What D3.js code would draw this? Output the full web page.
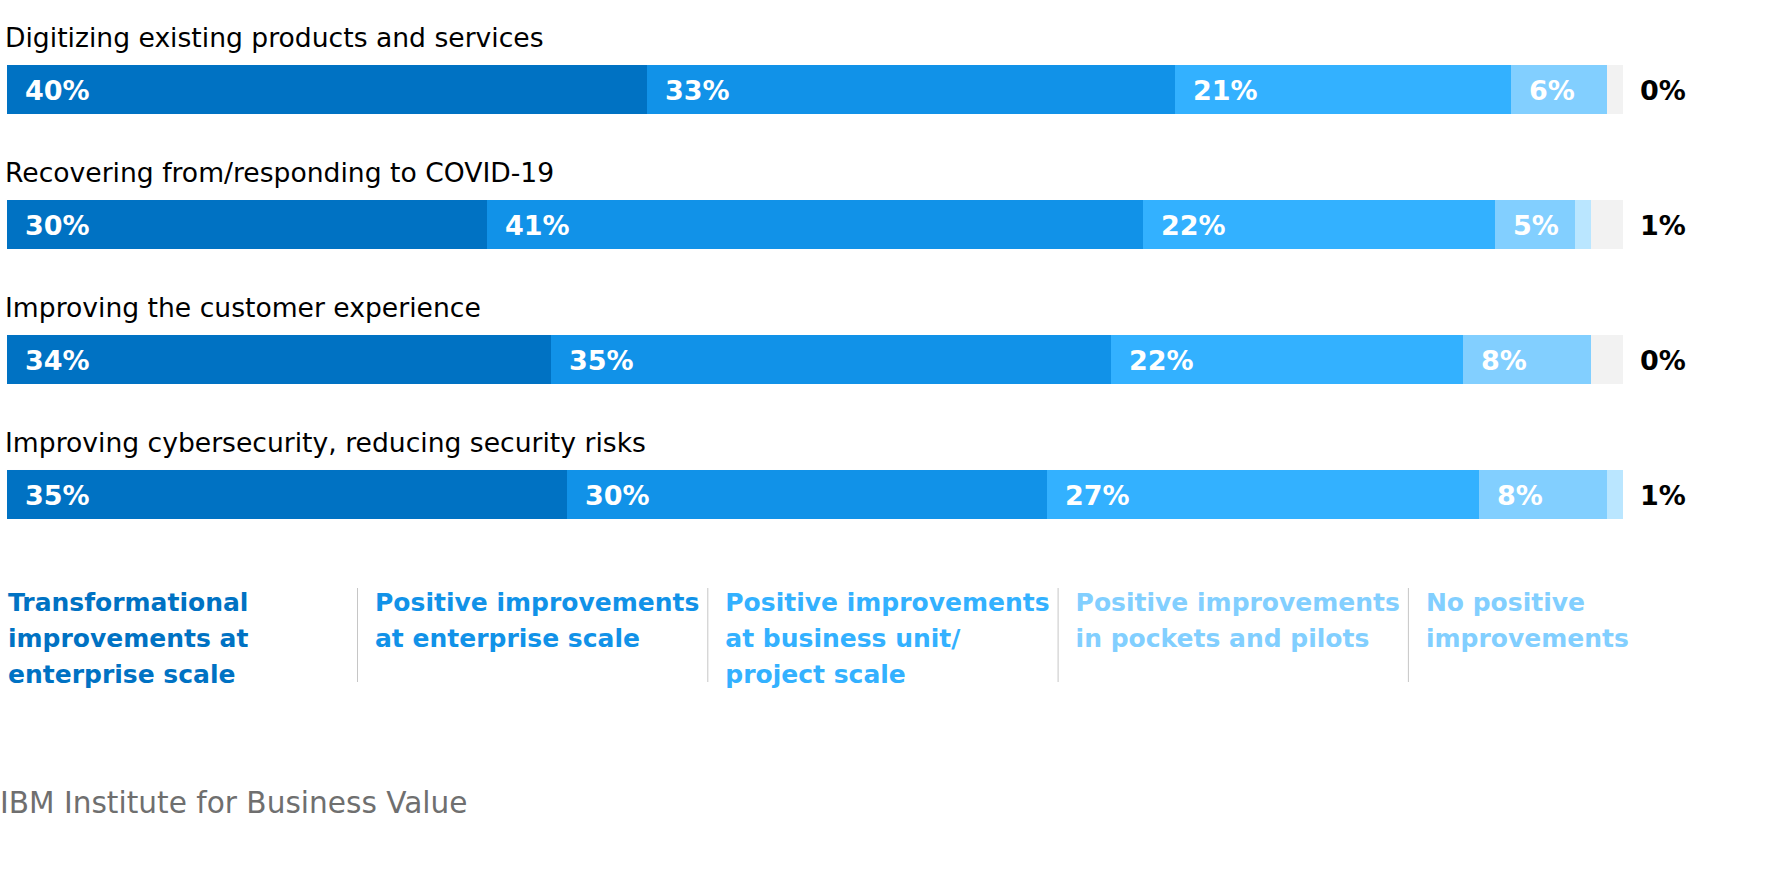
<!DOCTYPE html>
<html>
<head>
<meta charset="utf-8">
<script src="https://cdn.jsdelivr.net/npm/d3@7"></script>
<style>
  html, body { margin: 0; padding: 0; background: #ffffff; }
  svg { display: block; }
</style>
</head>
<body>
<svg id="chart" width="1778" height="883"></svg>
<script>
// ---- data ----
const categories = [
  "Digitizing existing products and services",
  "Recovering from/responding to COVID-19",
  "Improving the customer experience",
  "Improving cybersecurity, reducing security risks"
];
const seriesNames = [
  "Transformational improvements at enterprise scale",
  "Positive improvements at enterprise scale",
  "Positive improvements at business unit/ project scale",
  "Positive improvements in pockets and pilots",
  "No positive improvements"
];
const legendLines = [
  ["Transformational", "improvements at", "enterprise scale"],
  ["Positive improvements", "at enterprise scale"],
  ["Positive improvements", "at business unit/", "project scale"],
  ["Positive improvements", "in pockets and pilots"],
  ["No positive", "improvements"]
];
const transformational = [40, 30, 34, 35];
const enterpriseScale  = [33, 41, 35, 30];
const businessUnit     = [21, 22, 22, 27];
const pocketsPilots    = [6, 5, 8, 8];
const noPositive       = [0, 1, 0, 1];
const seriesColors = ["#0072c3", "#1192e8", "#33b1ff", "#82cfff", "#bae6ff"];
const legendColors = ["#0072c3", "#1192e8", "#33b1ff", "#82cfff", "#82cfff"];
const sourceText = "IBM Institute for Business Value";

// ---- build ----
const seriesValues = [transformational, enterpriseScale, businessUnit, pocketsPilots, noPositive];
const rows = categories.map((c, i) => {
  const r = { category: c };
  seriesValues.forEach((s, k) => { r["s" + k] = s[i]; });
  return r;
});
const keys = seriesValues.map((_, k) => "s" + k);
const stacked = d3.stack().keys(keys)(rows);
const maxTotal = d3.max(rows, r => d3.sum(keys, k => r[k]));

const svg = d3.select("#chart");
const x = d3.scaleLinear().domain([0, maxTotal]).range([7, 1623]);
const y = d3.scaleBand().domain(categories).range([65, 519]).paddingInner(0.637).paddingOuter(0);
const bh = y.bandwidth();

const labelFont = "'DejaVu Sans', sans-serif";

// grey track
svg.append("g").selectAll("rect").data(categories).join("rect")
  .attr("x", x(0)).attr("y", c => y(c))
  .attr("width", x(maxTotal) - x(0)).attr("height", bh)
  .attr("fill", "#f2f2f2");

// category titles
svg.append("g").selectAll("text").data(categories).join("text")
  .attr("x", 5).attr("y", c => y(c) - 18)
  .attr("font-family", labelFont).attr("font-size", 26.6)
  .attr("fill", "#000").text(c => c);

// segments
const layers = svg.append("g").selectAll("g").data(stacked).join("g")
  .attr("fill", (d, i) => seriesColors[i]);
layers.selectAll("rect").data(d => d.map(p => ({p, cat: p.data.category}))).join("rect")
  .attr("x", d => x(d.p[0])).attr("y", d => y(d.cat))
  .attr("width", d => Math.max(0, x(d.p[1]) - x(d.p[0]))).attr("height", bh);

// in-bar labels (first four series)
stacked.slice(0, 4).forEach(layer => {
  svg.append("g").selectAll("text").data(layer).join("text")
    .attr("x", p => x(p[0]) + 18)
    .attr("y", p => y(p.data.category) + bh / 2)
    .attr("dy", "0.4em")
    .attr("font-family", labelFont).attr("font-weight", "bold").attr("font-size", 27)
    .attr("fill", "#ffffff")
    .text(p => (p[1] - p[0]) + "%");
});

// outside labels (no positive improvements)
svg.append("g").selectAll("text").data(stacked[4]).join("text")
  .attr("x", x(maxTotal) + 17)
  .attr("y", p => y(p.data.category) + bh / 2)
  .attr("dy", "0.4em")
  .attr("font-family", labelFont).attr("font-weight", "bold").attr("font-size", 27)
  .attr("fill", "#000000")
  .text(p => (p[1] - p[0]) + "%");

// legend
const legX = d3.scaleBand().domain(seriesNames).range([357 - 350.3, 357 + 350.3 * 4]);
const lg = svg.append("g").selectAll("g").data(seriesNames).join("g")
  .attr("transform", d => `translate(${legX(d)},0)`);
lg.filter((d, i) => i > 0).append("line")
  .attr("x1", 0.5).attr("x2", 0.5).attr("y1", 588).attr("y2", 682)
  .attr("stroke", "#c6c6c6").attr("stroke-width", 1);
lg.each(function(d, i) {
  const t = d3.select(this).append("text")
    .attr("font-family", labelFont).attr("font-weight", "bold").attr("font-size", 25)
    .attr("fill", legendColors[i]);
  legendLines[i].forEach((line, j) => {
    t.append("tspan").attr("x", i === 0 ? 8 - legX(d) : 18).attr("y", 611 + j * 36).text(line);
  });
});

// source
svg.append("text").attr("x", 0).attr("y", 813)
  .attr("font-family", labelFont).attr("font-size", 29.6)
  .attr("fill", "#6f6f6f").text(sourceText);
</script>
</body>
</html>
